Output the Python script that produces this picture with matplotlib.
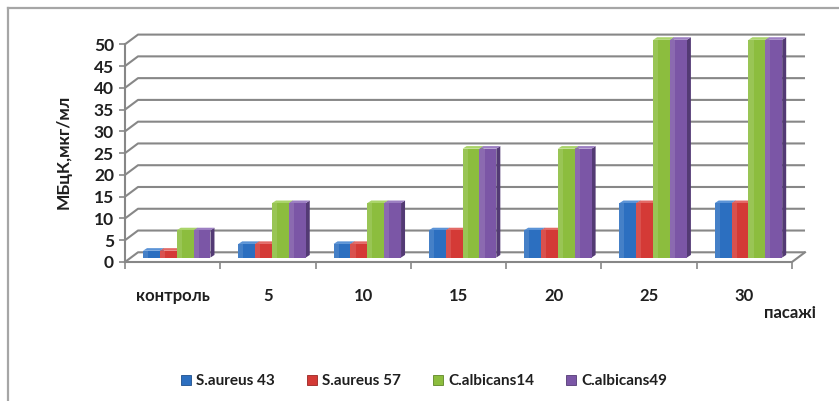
import matplotlib
matplotlib.use('Agg')
import matplotlib.pyplot as plt
from matplotlib.patches import Rectangle, Polygon, Patch
from matplotlib.lines import Line2D
import numpy as np

plt.rcParams['font.family'] = ['Lato', 'DejaVu Sans']
plt.rcParams['font.weight'] = 'bold'

categories = ['контроль', '5', '10', '15', '20', '25', '30']
series_names = ['S.aureus 43', 'S.aureus 57', 'C.albicans14', 'C.albicans49']
s_aureus_43 = [1.56, 3.12, 3.12, 6.25, 6.25, 12.5, 12.5]
s_aureus_57 = [1.56, 3.12, 3.12, 6.25, 6.25, 12.5, 12.5]
c_albicans_14 = [6.25, 12.5, 12.5, 25, 25, 50, 50]
c_albicans_49 = [6.25, 12.5, 12.5, 25, 25, 50, 50]
y_ticks = list(range(0, 55, 5))

series = [s_aureus_43, s_aureus_57, c_albicans_14, c_albicans_49]
face = ['#2c6fc0', '#d43a36', '#8cbd3e', '#7b56a6']
side = ['#1d4f8c', '#9a2522', '#5f8627', '#533a74']
top = ['#5b93d6', '#e26a66', '#aad46a', '#9c7fc2']
txt = '#1f1f1f'

W, H = 839, 401
fig = plt.figure(figsize=(W / 100, H / 100), dpi=100)
# front plane of the pseudo-3D box
x0, x1, y0, y1 = 125, 792, 262, 44.3
ax = fig.add_axes([x0 / W, 1 - y0 / H, (x1 - x0) / W, (y0 - y1) / H])
n = len(categories)
ax.set_xlim(0, n)
ax.set_ylim(0, 50)
for s in ax.spines.values():
    s.set_visible(False)

# depth offset of the back wall, in data units
px_x = (x1 - x0) / n
px_y = (y0 - y1) / 50
dx, dy = 13 / px_x, 9.7 / px_y
grid_c = '#878787'

for v in y_ticks:
    ax.plot([0, dx, n + dx], [v, v + dy, v + dy], color=grid_c, lw=1.5,
            solid_capstyle='butt', zorder=1, clip_on=False)
ax.plot([0, n, n + dx], [0, 0, dy], color=grid_c, lw=1.5, zorder=1, clip_on=False)
ax.plot([0, 0], [0, 50], color=grid_c, lw=1.5, zorder=1, clip_on=False)

# axis ticks and labels
ax.set_yticks(y_ticks)
ax.tick_params(axis='y', length=4, width=1.2, color=grid_c, pad=4,
               labelsize=12.5, labelcolor=txt)
ax.set_xticks(np.arange(n) + 0.5)
ax.set_xticklabels(categories)
ax.set_xticks(np.arange(n + 1), minor=True)
ax.tick_params(axis='x', which='major', length=0, pad=19,
               labelsize=12, labelcolor=txt)
ax.tick_params(axis='x', which='minor', length=5, width=1.2, color=grid_c)

# columns with a visible side and top face
w = 0.177
sx, sy = 0.043, 0.46 * dy
ddx, ddy = 4 / px_x, 2.6 / px_y
for i in range(n):
    for j, vals in enumerate(series):
        h = vals[i]
        bx = i + 0.5 - 2 * w + j * w + sx
        z = 2 + j * 0.1
        ax.add_patch(Polygon([(bx + w, sy), (bx + w + ddx, sy + ddy),
                              (bx + w + ddx, sy + h + ddy), (bx + w, sy + h)],
                             closed=True, fc=side[j], ec='none', zorder=z, clip_on=False))
        ax.add_patch(Polygon([(bx, sy + h), (bx + ddx, sy + h + ddy),
                              (bx + w + ddx, sy + h + ddy), (bx + w, sy + h)],
                             closed=True, fc=top[j], ec='none', zorder=z, clip_on=False))
        ax.add_patch(Rectangle((bx, sy), w, h, fc=face[j], ec='none',
                               zorder=z + 0.01, clip_on=False))
        ax.add_patch(Rectangle((bx, sy), w * 0.3, h, fc='white', alpha=0.12,
                               ec='none', zorder=z + 0.02, clip_on=False))

fig.text(64 / W, 1 - 152 / H, 'МБцК,мкг/мл', rotation=90, ha='center', va='center',
         fontsize=12.5, color=txt)
fig.text(790 / W, 1 - 313 / H, 'пасажі', ha='center', va='center',
         fontsize=12, color=txt)

handles = [Patch(fc=face[j], ec=side[j], lw=0.6) for j in range(4)]
fig.legend(handles, series_names, loc='center', bbox_to_anchor=(424 / W, 1 - 381 / H),
           ncol=4, frameon=False, fontsize=11, handlelength=0.65, handleheight=0.65,
           handletextpad=0.35, columnspacing=2.1, labelcolor=txt)

# outer frame
fig.add_artist(Line2D([7.5 / W, 7.5 / W], [0, 1 - 7.5 / H], color='#a6a6a6', lw=1.6))
fig.add_artist(Line2D([7.5 / W, 1], [1 - 7.5 / H, 1 - 7.5 / H], color='#a6a6a6', lw=1.6))

fig.savefig('out.png', dpi=100)
